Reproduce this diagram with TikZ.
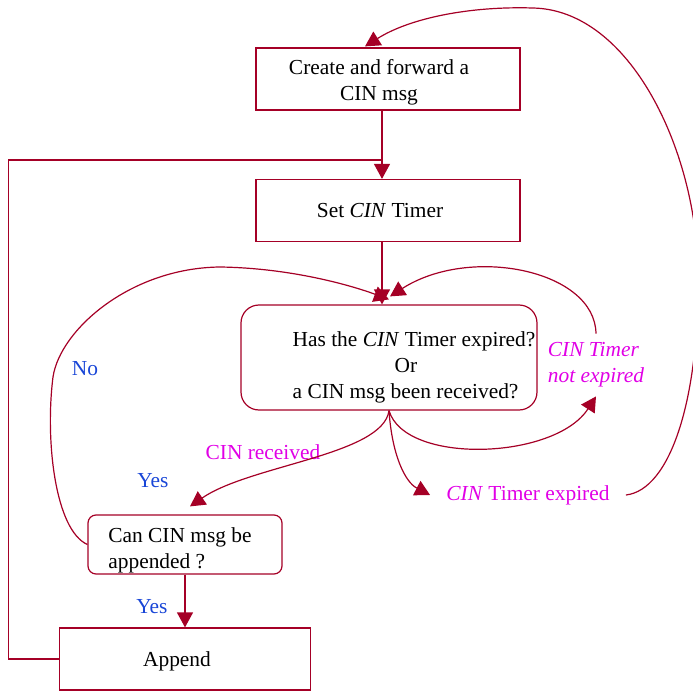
\documentclass[tikz,border=0pt]{standalone}
\usepackage{fontspec}
\setmainfont{Liberation Serif}
\usepackage{tikz}
\usetikzlibrary{positioning,arrows.meta,calc}
\definecolor{flowred}{RGB}{165,0,38}
\definecolor{labelpink}{RGB}{225,0,230}
\definecolor{labelblue}{RGB}{25,70,215}
% move a node's text off centre without changing the box
\newcommand{\nudge}[3]{\kern#1\raisebox{#2}[\height][\depth]{#3}\kern-#1}

\begin{document}
\begin{tikzpicture}[x=0.5pt, y=-0.5pt, node distance=65.75pt, auto, >={Triangle[length=7.5pt,width=8pt]}]
    \tikzstyle{stepbox} = [rectangle, minimum width=132pt, minimum height=31pt, inner ysep=0pt, align=center, draw=flowred, line width=0.6pt, font=\fontsize{10.7}{13}\selectfont]
    \tikzstyle{decision} = [stepbox, rounded corners=9pt, minimum width=148pt, minimum height=52.5pt]
    \tikzstyle{check} = [stepbox, rounded corners=4pt, minimum width=97pt, minimum height=29.5pt, align=left]
    \tikzstyle{flow} = [draw=flowred, line width=0.6pt]
    \tikzstyle{answer} = [text=labelblue, font=\fontsize{10.7}{13}\selectfont]
    \tikzstyle{outcome} = [text=labelpink, font=\fontsize{10.7}{13}\selectfont]

    \useasboundingbox (0,0) rectangle (693,691);

    % Main column
    \node [stepbox] (create) at (388,79) {\nudge{-4.5pt}{-1.75pt}{\begin{tabular}{@{}c@{}}Create and forward a\\CIN msg\end{tabular}}};
    \node [stepbox, below of=create] (settimer) {\nudge{-4pt}{0pt}{Set \textit{CIN} Timer}};
    \node [decision, below of=settimer, xshift=0.5pt, yshift=-7.75pt] (question) {\nudge{12.5pt}{-5pt}{\begin{tabular}{@{}l@{}}Has the \textit{CIN} Timer expired?\\\hspace*{51pt}Or\\a CIN msg been received?\end{tabular}}};
    \node [check, below of=question, xshift=-102pt, yshift=-27.75pt] (canappend) {\nudge{-2.5pt}{-3pt}{\begin{tabular}{@{}l@{}}Can CIN msg be\\appended ?\end{tabular}}};
    \node [stepbox, minimum width=125.5pt, below of=canappend, yshift=8.5pt] (append) {\nudge{-4pt}{-1pt}{Append}};

    % Labels on the branches
    \node [answer] (no) at (85,369) {No};
    \node [answer] (yesrcv) at (153,481) {Yes};
    \node [answer] (yesapp) at (152,607) {Yes};
    \node [outcome] (received) at (263,452) {CIN received};
    \node [outcome, align=left, font=\fontsize{10.7}{13}\selectfont\itshape] (notexp) at (596,365) {CIN Timer\\not expired};
    \node [outcome, inner xsep=8pt] (expired) at (528,495) {\textit{CIN} Timer expired};

    \coordinate (join) at (382,160);

    % Straight arrows
    \draw [flow, ->] ([xshift=-3pt]create.south) -- ([xshift=-3pt]settimer.north);
    \draw [flow, ->] ([xshift=-3pt]settimer.south) -- ([xshift=-3.5pt]question.north);
    \draw [flow, ->] (canappend.south) -- (append.north);
    \draw [flow] (append.west) -- ++(-25pt,0) |- (join);

    % Branches out of the decision
    \draw [flow, ->] (question.south) .. controls (383,455) and (250,465) .. ([xshift=2.5pt, yshift=4pt]canappend.north);
    \draw [flow, ->] (question.south) .. controls (405,465) and (555,460) .. ([yshift=-1pt]notexp.south);
    \draw [flow, ->] (question.south) .. controls (392,455) and (405,482) .. (expired.west);

    % Loops back
    \draw [flow, ->] ([yshift=1pt]notexp.north) .. controls (595,270) and (470,245) .. ([xshift=0.5pt, yshift=4pt]question.north);
    \draw [flow, ->] (canappend.west) .. controls (55,530) and (45,440) .. (53,377)
        .. controls (60,330) and (130,268) .. (220,267)
        .. controls (290,268) and (350,285) .. ([yshift=2.5pt]question.north);
    \draw [flow, ->] (expired.east) .. controls (670,490) and (700,400) .. (698,270)
        .. controls (696,150) and (630,10) .. (533,8)
        .. controls (470,6) and (410,18) .. ([xshift=-11.5pt, yshift=0.5pt]create.north);
\end{tikzpicture}
\end{document}
